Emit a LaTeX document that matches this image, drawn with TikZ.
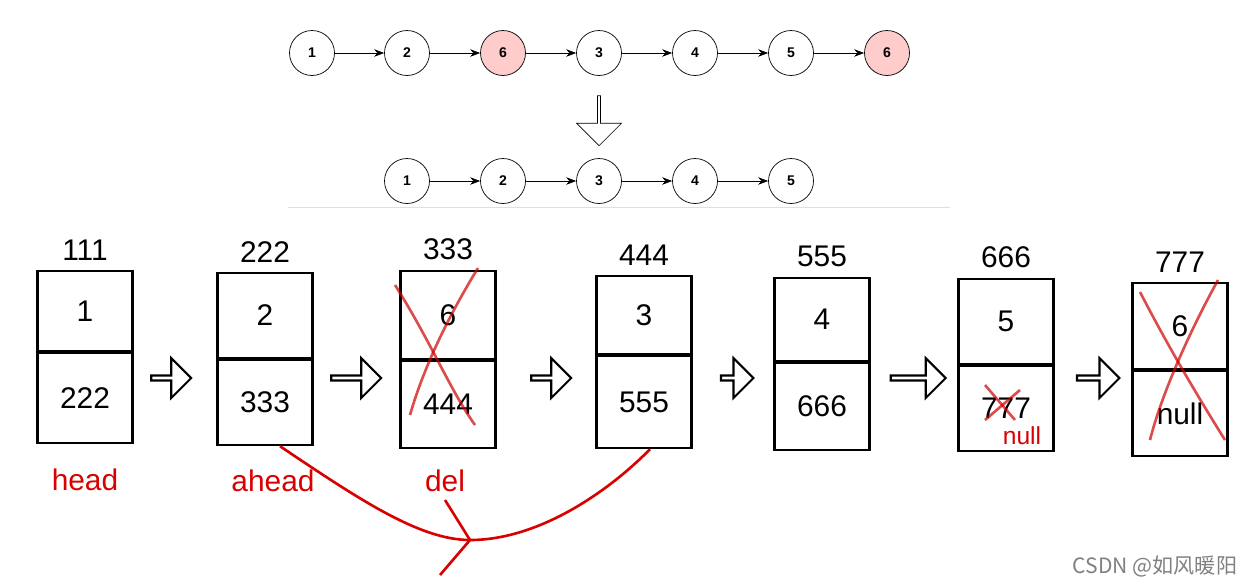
\documentclass[tikz,border=0pt]{standalone}
\usepackage{fontspec}
\setmainfont{Liberation Sans}
\newfontfamily\cjk{Noto Sans CJK SC}
\usetikzlibrary{arrows.meta, positioning, calc, shapes.arrows}

\begin{document}
\begin{tikzpicture}[x=0.02cm, y=-0.02cm,
    elem/.style={draw, circle, thin, minimum size=0.9cm, inner sep=0pt, font=\footnotesize\bfseries},
    dup/.style={elem, fill=red!20},
    link/.style={-{Stealth[length=2mm,width=1.5mm]}},
    half/.style={draw, very thick, minimum width=1.9cm, inner sep=0pt, font=\fontsize{17}{19}\selectfont},
    addr/.style={font=\fontsize{17}{19}\selectfont},
    tag/.style={text=red!85!black, font=\fontsize{17}{19}\selectfont},
    stepper/.style={draw, very thick, single arrow, minimum height=0.8cm, minimum width=0.8cm, single arrow head extend=1.5mm, inner sep=0pt},
    cross/.style={red!80!black, opacity=0.7, line width=1.5pt}
]
    \useasboundingbox (0,0) rectangle (1241,586);
    % Original list
    \foreach \v/\x [count=\i] in {1/312, 2/407, 6/503, 3/599, 4/695, 5/791, 6/887}{
        \ifnum\i=3 \node[dup] (a\i) at (\x,53) {\v};
        \else\ifnum\i=7 \node[dup] (a\i) at (\x,53) {\v};
        \else \node[elem] (a\i) at (\x,53) {\v}; \fi\fi
    }
    \foreach \i [evaluate=\i as \j using int(\i+1)] in {1,...,6}
        \draw[link] (a\i) -- (a\j);
    \node[draw, single arrow, shape border rotate=270, minimum height=1cm, minimum width=0.9cm, single arrow head extend=1mm, inner sep=0pt] (down) at (599,120) {};
    % Result list
    \foreach \v/\x in {1/407, 2/503, 3/599, 4/695, 5/791}
        \node[elem] (b\v) at (\x,181) {\v};
    \foreach \i/\j in {1/2, 2/3, 3/4, 4/5}
        \draw[link] (b\i) -- (b\j);
    \draw[gray!25] (288,207) -- (950,207);

    % Memory boxes
    \foreach \n/\x/\y/\hu/\hl/\val/\nxt/\ad in {
        1/85/270/1.6/1.8/1/222/111, 2/265/272/1.7/1.7/2/333/222,
        3/448/270/1.76/1.74/6/444/333, 4/644/275/1.56/1.84/3/555/444,
        5/822/277/1.66/1.74/4/666/555, 6/1006/278/1.7/1.7/5/777/666,
        7/1180/282/1.72/1.7/6/null/777}{
        \node[half, minimum height=\hu cm, anchor=north] (top\n) at (\x,\y) {\val};
        \node[half, minimum height=\hl cm, below=0pt of top\n] (bot\n) {\nxt};
        \node[addr, above=2pt of top\n] (adr\n) {\ad};
    }
    % Steps between boxes
    \foreach \i/\x/\w in {1/170/0.8, 2/355/1.0, 3/550/0.8, 4/736/0.65, 5/917/1.1, 6/1097/0.85}
        \node[stepper, minimum height=\w cm] (st\i) at (\x,378) {};

    % Labels
    \node[tag] (lhead) at (85,480) {head};
    \node[tag] (lahead) at (273,481) {ahead};
    \node[tag] (ldel) at (445,481) {del};
    \node[tag, font=\fontsize{14}{16}\selectfont] (lnull) at (1022,436) {null};

    % Crossed out
    \draw[cross] (395,285) .. controls (430,340) and (450,390) .. (475,425);
    \draw[cross] (478,268) .. controls (440,330) and (420,380) .. (410,415);
    \draw[cross] (985,385) -- (1015,420);
    \draw[cross] (1020,390) -- (985,420);
    \draw[cross] (1140,292) .. controls (1170,350) and (1200,400) .. (1225,440);
    \draw[cross] (1218,280) .. controls (1185,340) and (1160,400) .. (1150,440);

    % Relink
    \coordinate (tip) at (470,540);
    \draw[red!85!black, line width=1.5pt] ($(bot2.south)+(15,0)$) .. controls (360,500) and (420,540) .. (tip)
        .. controls (540,540) and (610,490) .. ($(bot4.south)+(6,0)$);
    \draw[red!85!black, line width=1.5pt] (445,500) -- (tip) -- (440,575);

    \node[gray, font=\cjk\fontsize{12}{14}\selectfont] (mark) at (1155,566) {CSDN @如风暖阳};
\end{tikzpicture}
\end{document}
